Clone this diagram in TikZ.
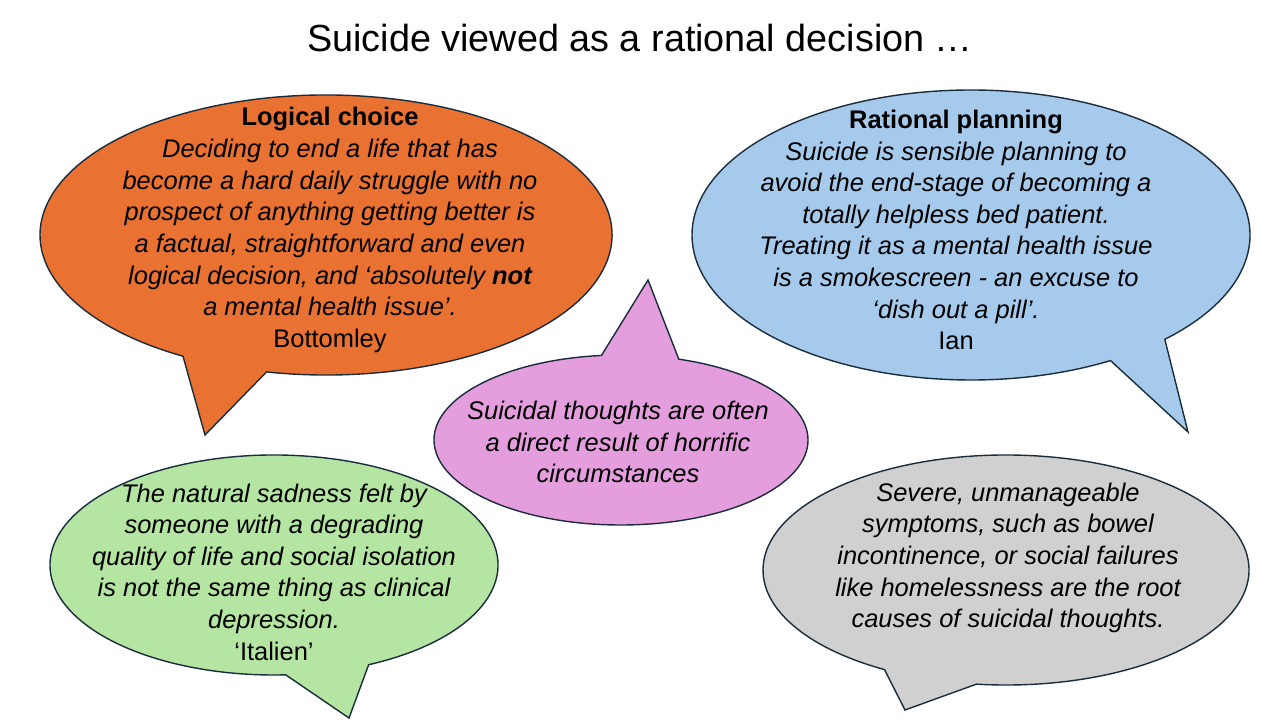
\documentclass[tikz,border=0pt]{standalone}
\usepackage{fontspec}
\setmainfont{Liberation Sans}
\usepackage{tikz}
\usetikzlibrary{calc,positioning}
\definecolor{edgeblue}{HTML}{1B2D3D}
\definecolor{orangefill}{HTML}{E97132}
\definecolor{bluefill}{HTML}{A6CAEC}
\definecolor{pinkfill}{HTML}{E49EDD}
\definecolor{greenfill}{HTML}{B4E5A2}
\definecolor{greyfill}{HTML}{D0D0D0}
% speech bubble: fill, centre, x radius, y radius, start and end angle of tail, tip
\newcommand{\speechbubble}[7]{%
  \draw[bubble,fill=#1] ($(#2)+(#6:#3 and #4)$) arc[start angle=#6, end angle=#5+360, x radius=#3, y radius=#4] -- (#7) -- cycle;}

\begin{document}
\begin{tikzpicture}[x=0.02cm,y=0.02cm]

\tikzset{bubble/.style={draw=edgeblue,line width=0.8pt,line join=miter},
quote/.style={align=center,font=\fontsize{14.5}{18}\selectfont\itshape},
title/.style={font=\fontsize{21.5}{26}\selectfont}}

\useasboundingbox (0,0) rectangle (1280,720);

\node[title] (heading) at (640,682) {Suicide viewed as a rational decision \dots};

% Bubbles
\speechbubble{orangefill}{326,485}{286}{140}{240}{258}{205,285}
\speechbubble{bluefill}{971,485}{279}{145}{300}{314}{1188,288}
\speechbubble{pinkfill}{621,280}{187}{85}{72}{96}{648,440}
\speechbubble{greenfill}{274,155}{224}{110}{273}{295}{349,2}
\speechbubble{greyfill}{1006,150}{243}{115}{240}{263}{905,10}

% Texts
\node[quote] (logical) at (330,490) {{\upshape\bfseries Logical choice}\\
Deciding to end a life that has\\ become a hard daily struggle with no\\ prospect of anything getting better is\\
a factual, straightforward and even\\ logical decision, and `absolutely {\bfseries not}\\ a mental health issue'.\\ {\upshape Bottomley}};
\node[quote] (rational) at (956,490) {{\upshape\bfseries Rational planning}\\
Suicide is sensible planning to\\ avoid the end-stage of becoming a\\ totally helpless bed patient.\\
Treating it as a mental health issue\\ is a smokescreen - an excuse to\\ `dish out a pill'.\\ {\upshape Ian}};
\node[quote] (horrific) at (618,278) {Suicidal thoughts are often\\ a direct result of  horrific\\ circumstances};
\node[quote] (sadness) at (274,148) {The natural sadness felt by\\ someone with a degrading\\ quality of life and social isolation\\
is not the same thing as clinical\\ depression.\\ {\upshape `Italien'}};
\node[quote] (symptoms) at (1008,162) {Severe, unmanageable\\ symptoms, such as bowel\\ incontinence, or social failures\\ like homelessness are the root\\ causes of suicidal thoughts.};

\end{tikzpicture}
\end{document}
